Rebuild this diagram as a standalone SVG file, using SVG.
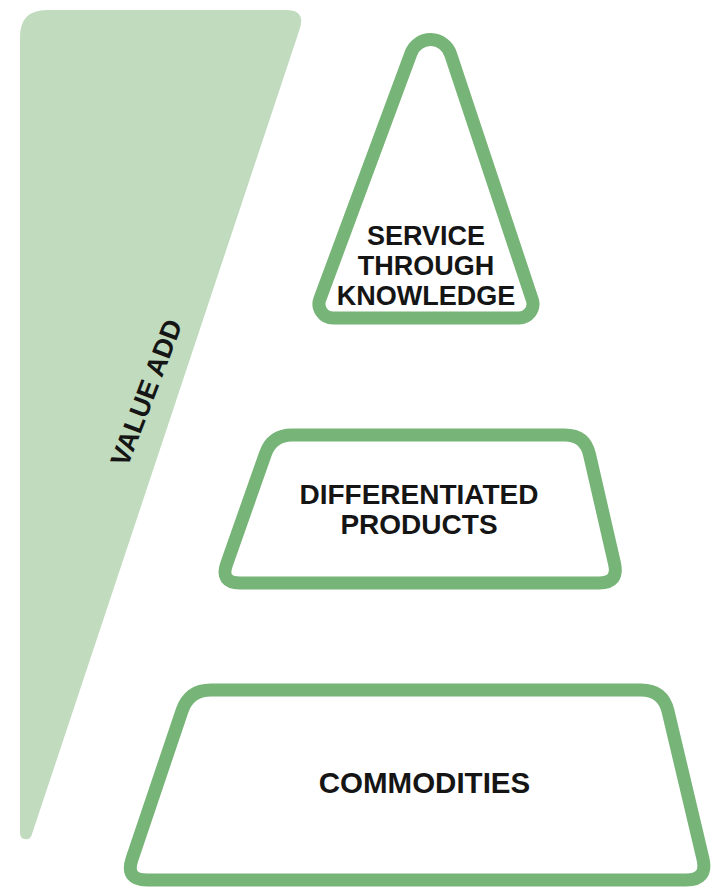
<svg xmlns="http://www.w3.org/2000/svg" width="711" height="888" viewBox="0 0 711 888">
<style>
.shape{fill:#ffffff;stroke:#76b477;stroke-width:13;stroke-linejoin:round}
.lbl{font-family:"Liberation Sans",Arial,Helvetica,sans-serif;font-weight:bold;fill:#151515;text-anchor:middle}
</style>
<rect width="711" height="888" fill="#ffffff"/>
<g id="value-add">
<path d="M20,37 Q20,10 47,10 L286,10 Q306,10 299.7,29 L31.7,835 A6 6 0 0 1 20,833 Z" fill="#c1dbbe"/>
<text class="lbl" font-size="27" transform="translate(155,396) rotate(-69)">VALUE ADD</text>
</g>
<g id="service-through-knowledge">
<path class="shape" d="M410.7,53.9 A21 21 0 0 1 450.7,54.5 L532.5,300.5 A14 14 0 0 1 519,318 L333,318 A14 14 0 0 1 319.8,299.3 Z"/>
<text class="lbl" font-size="27" x="426" y="245">SERVICE</text>
<text class="lbl" font-size="27" x="426" y="275">THROUGH</text>
<text class="lbl" font-size="27" x="426" y="305">KNOWLEDGE</text>
</g>
<g id="differentiated-products">
<path class="shape" d="M292,435 L565,435 Q585,435 589.5,454.5 L614.5,563.5 Q619,583 599,583 L240,583 Q220,583 226.6,564.1 L265.4,453.9 Q272,435 292,435 Z"/>
<text class="lbl" font-size="28" x="419" y="504">DIFFERENTIATED</text>
<text class="lbl" font-size="28" x="419" y="534">PRODUCTS</text>
</g>
<g id="commodities">
<path class="shape" d="M211,690 L641,690 Q663,690 668.1,711.4 L702.9,858.6 Q708,880 686,880 L147,880 Q125,880 132,859.1 L182,710.9 Q189,690 211,690 Z"/>
<text class="lbl" font-size="29.5" x="424.5" y="793">COMMODITIES</text>
</g>
<g id="connectors"/>
</svg>
